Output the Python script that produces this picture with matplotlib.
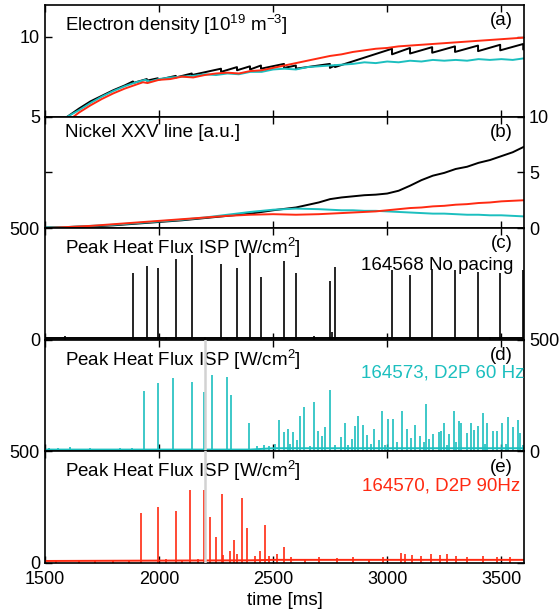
import numpy as np
import matplotlib
matplotlib.use('Agg')
import matplotlib.pyplot as plt

plt.rcParams['font.family'] = ['Liberation Sans', 'DejaVu Sans']
plt.rcParams['mathtext.fontset'] = 'custom'
plt.rcParams['mathtext.rm'] = 'Liberation Sans'

BLACK = 'black'
CYAN = '#1cbfbf'
RED = '#ff2a12'

# (a) electron density [1e19 m^-3]
ne_cyan_t = [1600, 1650, 1700, 1750, 1800, 1850, 1900, 1940, 1960, 2000, 2050, 2100, 2150,
             2200, 2250, 2300, 2350, 2400, 2450, 2500, 2550, 2600, 2650, 2700, 2750, 2800,
             2850, 2900, 2950, 3000, 3050, 3100, 3150, 3200, 3250, 3300, 3350, 3400, 3450,
             3500, 3550, 3600]
ne_cyan = [5.0, 5.4, 5.85, 6.25, 6.6, 6.9, 7.15, 7.3, 7.2, 7.35, 7.45, 7.5, 7.55,
           7.65, 7.6, 7.7, 7.65, 7.8, 7.8, 7.95, 8.0, 7.95, 8.1, 8.15, 8.2, 8.25,
           8.3, 8.4, 8.35, 8.45, 8.4, 8.5, 8.45, 8.55, 8.5, 8.55, 8.5, 8.6, 8.55,
           8.6, 8.55, 8.65]

ne_red_t = [1627, 1650, 1700, 1750, 1800, 1850, 1900, 1930, 1950, 2000, 2050, 2100, 2150,
            2200, 2250, 2300, 2350, 2400, 2450, 2500, 2550, 2600, 2650, 2700, 2750, 2800,
            2850, 2900, 2950, 3000, 3050, 3100, 3150, 3200, 3250, 3300, 3350, 3400, 3450,
            3500, 3550, 3600]
ne_red = [5.0, 5.25, 5.7, 6.1, 6.45, 6.75, 7.0, 7.15, 7.1, 7.3, 7.35, 7.5, 7.45,
          7.6, 7.7, 7.75, 7.7, 7.85, 7.9, 8.05, 8.2, 8.35, 8.5, 8.65, 8.8, 8.9,
          9.05, 9.15, 9.25, 9.3, 9.4, 9.45, 9.5, 9.55, 9.6, 9.65, 9.7, 9.75, 9.8,
          9.85, 9.9, 9.95]

# black has ELM sawtooth: value before and after each drop
ne_black_t = [1600, 1650, 1700, 1750, 1800, 1850, 1886, 1886, 1947, 1947, 1995, 1995,
              2074, 2074, 2144, 2144, 2272, 2272, 2342, 2342, 2399, 2399, 2447, 2447,
              2548, 2548, 2600, 2600, 2749, 2749, 2771, 2771, 3021, 3021, 3100, 3100,
              3197, 3197, 3297, 3297, 3398, 3398, 3495, 3495, 3596, 3596, 3600]
ne_black = [5.0, 5.5, 5.95, 6.3, 6.65, 6.95, 7.2, 7.1, 7.35, 7.25, 7.4, 7.3,
            7.55, 7.45, 7.7, 7.6, 8.0, 7.8, 8.1, 7.9, 8.15, 7.95, 8.2, 8.0,
            8.3, 8.05, 8.2, 8.0, 8.3, 8.05, 8.2, 8.1, 9.25, 8.9, 9.3, 8.95,
            9.35, 9.0, 9.4, 9.05, 9.45, 9.1, 9.5, 9.15, 9.55, 9.2, 9.22]

# (b) Nickel XXV line [a.u.]
ni_t = [1500, 1600, 1700, 1800, 1900, 2000, 2100, 2200, 2300, 2400, 2500, 2600, 2700,
        2750, 2800, 2850, 2900, 2950, 3000, 3050, 3100, 3150, 3200, 3250, 3300, 3350,
        3400, 3450, 3500, 3550, 3600]
ni_black = [0.05, 0.1, 0.15, 0.25, 0.4, 0.55, 0.7, 0.9, 1.1, 1.3, 1.6, 1.85, 2.3,
            2.6, 2.75, 2.85, 2.95, 3.0, 3.1, 3.35, 3.8, 4.3, 4.7, 4.95, 5.3, 5.5,
            5.85, 6.1, 6.45, 6.8, 7.3]
ni_cyan = [0.05, 0.1, 0.2, 0.3, 0.45, 0.6, 0.75, 0.95, 1.2, 1.45, 1.65, 1.75, 1.7,
           1.65, 1.6, 1.6, 1.55, 1.55, 1.5, 1.45, 1.4, 1.35, 1.3, 1.3, 1.25, 1.2,
           1.2, 1.15, 1.15, 1.1, 1.05]
ni_red = [0.0, 0.1, 0.2, 0.35, 0.5, 0.65, 0.8, 0.95, 1.1, 1.2, 1.25, 1.2, 1.25,
          1.3, 1.35, 1.4, 1.45, 1.5, 1.6, 1.7, 1.8, 1.85, 1.95, 2.0, 2.1, 2.15,
          2.25, 2.3, 2.4, 2.45, 2.5]

# (c) peak heat flux, 164568 no pacing
elm_c_t = [1886, 1947, 1995, 2074, 2144, 2272, 2342, 2399, 2447, 2548, 2600, 2749, 2771,
           3021, 3100, 3197, 3297, 3398, 3495, 3596,
           1590, 2030, 2200, 2680, 2760, 3000, 2300, 3450]
elm_c_h = [300, 332, 323, 363, 380, 340, 323, 389, 283, 354, 300, 261, 327,
           314, 288, 319, 314, 305, 300, 314,
           15, 12, 12, 15, 35, 12, 10, 12]

# (d) 164573, D2P 60 Hz
elm_d_t = [1933, 1994, 2061, 2144, 2197, 2232, 2297, 2317, 2393, 2527, 2548, 2564, 2587,
           2605, 2617, 2634, 2681, 2698, 2716, 2728, 2749, 2798, 2815, 2845, 2859, 2874,
           2894, 2913, 2942, 2964, 2979, 3005, 3026, 3064, 3086, 3103, 3123, 3144, 3170,
           3185, 3202, 3226, 3237, 3249, 3272, 3293, 3314, 3325, 3349, 3366, 3381, 3398,
           3419, 3439, 3463, 3480, 3504, 3530, 3550, 3571, 3582,
           1520, 1560, 1610, 1700, 1760, 1830, 1880, 2430, 2460, 2480, 2510, 2575, 2660,
           2770, 2830, 2930, 2990, 3045, 3160, 3260, 3300, 3430, 3520, 3595]
elm_d_h = [269, 305, 327, 311, 266, 344, 333, 254, 129, 140, 86, 101, 86,
           50, 158, 200, 222, 90, 70, 108, 273, 65, 128, 57, 113, 159,
           117, 72, 98, 53, 183, 143, 146, 181, 102, 62, 117, 68, 212,
           57, 80, 87, 89, 125, 77, 181, 137, 125, 84, 125, 95, 113,
           173, 128, 89, 91, 125, 152, 110, 140, 83,
           14, 16, 18, 14, 12, 16, 13, 25, 30, 22, 35, 32, 25,
           30, 28, 35, 30, 40, 40, 30, 40, 35, 35, 30]

# (e) 164570, D2P 90 Hz
elm_e_t = [1922, 1997, 2073, 2136, 2196, 2225, 2248, 2275, 2311, 2330, 2364, 2387, 2443,
           2463, 2517, 2546,
           1550, 1650, 1720, 1800, 1870, 2030, 2100, 2170, 2280, 2340, 2420, 2480, 2580,
           2640, 2700, 2780, 2850, 2920, 2980, 3060, 3080, 3110, 3150, 3190, 3230, 3260,
           3300, 3350, 3420, 3480, 3540]
elm_e_h = [222, 249, 235, 326, 327, 207, 116, 311, 54, 101, 289, 158, 52,
           170, 40, 73,
           12, 14, 12, 14, 12, 16, 14, 20, 35, 40, 30, 30, 25,
           20, 25, 22, 25, 20, 25, 45, 40, 35, 30, 40, 35, 40,
           30, 25, 30, 25, 25]

base_t = [1500, 2400, 2500, 3600]
base_c = [6, 6, 6, 6]
base_d = [8, 8, 14, 14]
base_e = [9, 12, 14, 14]

fig, axes = plt.subplots(5, 1, figsize=(5.6, 6.13), dpi=100, sharex=True)
fig.subplots_adjust(left=0.080, right=0.936, top=0.992, bottom=0.0816, hspace=0)

ax = axes[0]
ax.plot(ne_black_t, ne_black, color=BLACK, lw=1.4)
ax.plot(ne_cyan_t, ne_cyan, color=CYAN, lw=1.4)
ax.plot(ne_red_t, ne_red, color=RED, lw=1.4)
ax.set_ylim(5, 12)
ax.set_yticks([5, 10])
ax.text(0.042, 0.935, 'Electron density [10$^{19}$ m$^{-3}$]', transform=ax.transAxes,
        ha='left', va='top', fontsize=13.5)
ax.text(0.977, 0.935, '(a)', transform=ax.transAxes, ha='right', va='top', fontsize=13.5)

ax = axes[1]
ax.plot(ni_t, ni_black, color=BLACK, lw=1.4)
ax.plot(ni_t, ni_cyan, color=CYAN, lw=1.4)
ax.plot(ni_t, ni_red, color=RED, lw=1.4)
ax.set_ylim(0, 10)
ax.set_yticks([0, 5, 10])
ax.text(0.042, 0.935, 'Nickel XXV line [a.u.]', transform=ax.transAxes,
        ha='left', va='top', fontsize=13.5)
ax.text(0.977, 0.935, '(b)', transform=ax.transAxes, ha='right', va='top', fontsize=13.5)

flux_label = 'Peak Heat Flux ISP [W/cm$^2$]'
spikes = [(elm_c_t, elm_c_h, base_c, BLACK, '(c)', '164568 No pacing', 0.977, 0.74),
          (elm_d_t, elm_d_h, base_d, CYAN, '(d)', '164573, D2P 60 Hz', 1.0, 0.78),
          (elm_e_t, elm_e_h, base_e, RED, '(e)', '164570, D2P 90Hz', 0.992, 0.77)]
for ax, (t, h, base, col, tag, shot, sx, sy) in zip(axes[2:], spikes):
    ax.plot(base_t, base, color=col, lw=1.4)
    ax.vlines(t, 0, h, color=col, lw=1.2)
    ax.set_ylim(0, 500)
    ax.set_yticks([0, 500])
    ax.text(0.042, 0.935, flux_label, transform=ax.transAxes,
            ha='left', va='top', fontsize=13.5)
    ax.text(0.977, 0.935, tag, transform=ax.transAxes, ha='right', va='top', fontsize=13.5)
    ax.text(sx, sy, shot, transform=ax.transAxes, ha='right', va='top',
            fontsize=13.5, color=col)

for ax in axes[3:]:
    ax.axvline(2200, color='#d2d2d2', lw=1.8, zorder=5)

for i, ax in enumerate(axes):
    ax.set_xlim(1500, 3600)
    ax.set_xticks([1500, 2000, 2500, 3000, 3500])
    right = (i % 2 == 1)
    ax.tick_params(axis='both', direction='in', length=5, width=1, labelsize=13,
                   top=True, bottom=True, left=True, right=True,
                   labelleft=not right, labelright=right)
    ax.tick_params(axis='x', pad=6)
    for s in ax.spines.values():
        s.set_linewidth(1.2)

axes[-1].set_xlabel('time [ms]', fontsize=13.5, labelpad=3)

fig.savefig('out.png', dpi=100)
